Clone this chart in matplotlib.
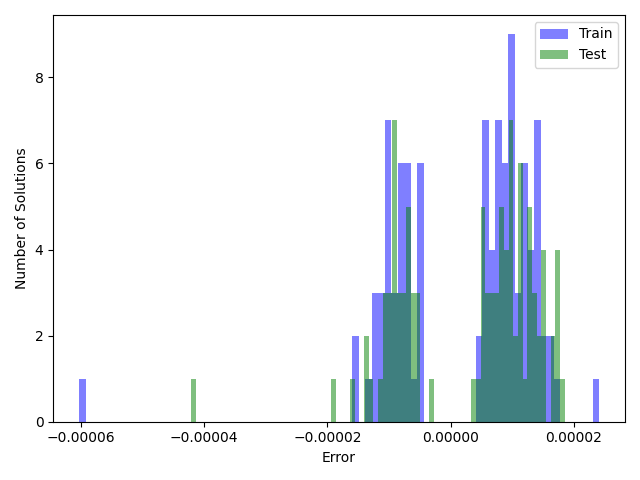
import numpy as np
import matplotlib
matplotlib.use("Agg")
import matplotlib.pyplot as plt
from matplotlib.ticker import ScalarFormatter

n_bins = 80
train_min, train_max = -6.026e-5, 2.407e-5
test_min, test_max = -4.209e-5, 1.851e-5

train_counts = [
    1, 0, 0, 0, 0, 0, 0, 0, 0, 0,
    0, 0, 0, 0, 0, 0, 0, 0, 0, 0,
    0, 0, 0, 0, 0, 0, 0, 0, 0, 0,
    0, 0, 0, 0, 0, 0, 0, 0, 0, 0,
    0, 0, 2, 0, 1, 3, 3, 7, 3, 6,
    6, 1, 6, 0, 0, 0, 0, 0, 0, 0,
    0, 2, 7, 4, 7, 6, 9, 3, 6, 4,
    7, 2, 2, 1, 0, 0, 0, 0, 0, 1,
]

test_counts = [
    1, 0, 0, 0, 0, 0, 0, 0, 0, 0,
    0, 0, 0, 0, 0, 0, 0, 0, 0, 0,
    0, 0, 0, 0, 0, 0, 0, 0, 0, 0,
    1, 0, 0, 0, 1, 0, 0, 2, 1, 0,
    1, 3, 3, 7, 3, 3, 5, 3, 3, 0,
    0, 1, 0, 0, 0, 0, 0, 0, 0, 0,
    1, 1, 5, 3, 3, 3, 5, 4, 7, 2,
    6, 1, 5, 3, 2, 4, 0, 2, 4, 1,
]

fig, ax = plt.subplots(figsize=(6.4, 4.8), dpi=100)

train_edges = np.linspace(train_min, train_max, n_bins + 1)
train_centers = 0.5 * (train_edges[:-1] + train_edges[1:])
ax.hist(train_centers, bins=train_edges, weights=train_counts,
        color='b', alpha=0.5, label='Train')

test_edges = np.linspace(test_min, test_max, n_bins + 1)
test_centers = 0.5 * (test_edges[:-1] + test_edges[1:])
ax.hist(test_centers, bins=test_edges, weights=test_counts,
        color='g', alpha=0.5, label='Test')

fmt = ScalarFormatter(useOffset=False)
fmt.set_scientific(False)
ax.xaxis.set_major_formatter(fmt)

ax.set_xlabel('Error')
ax.set_ylabel('Number of Solutions')
ax.legend(loc='upper right')
fig.tight_layout()
fig.savefig('out.png', dpi=100)
